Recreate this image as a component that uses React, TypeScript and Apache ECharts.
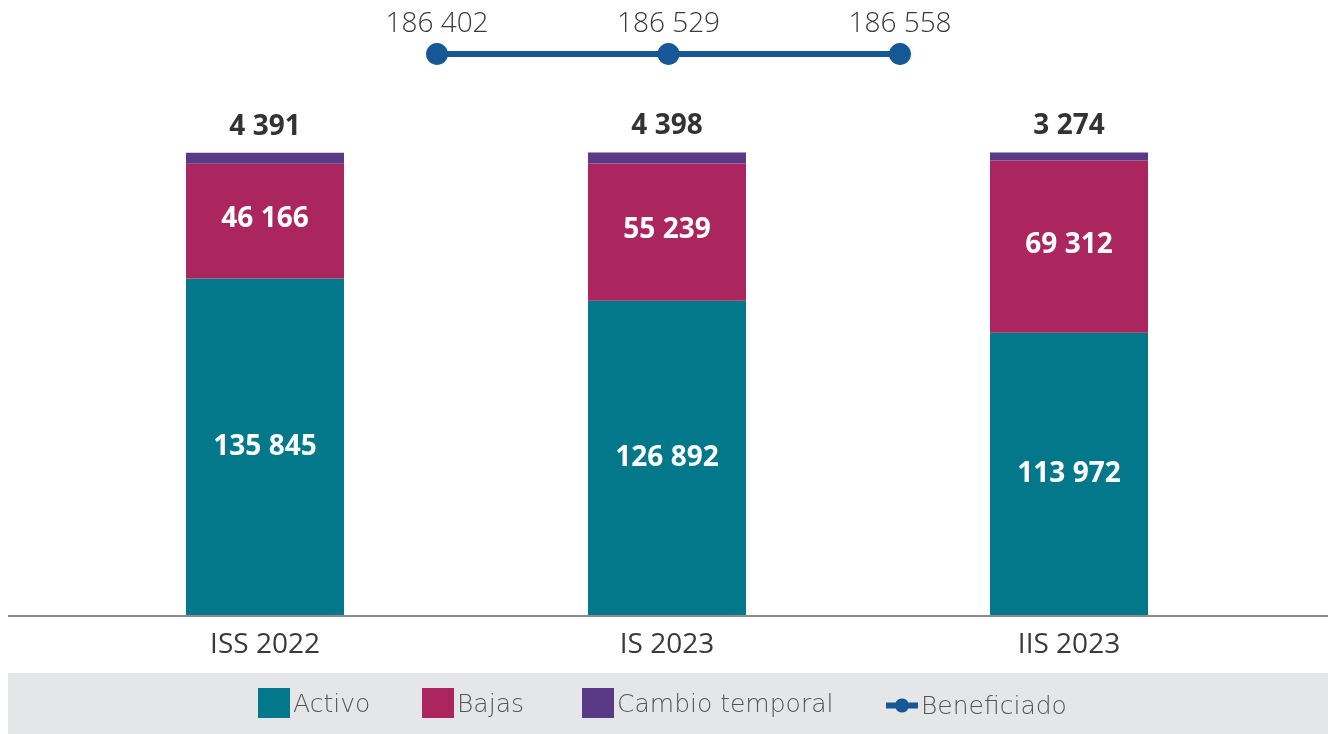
import React, { useEffect, useRef } from "react";
import * as echarts from "echarts";

const categories = ["ISS 2022", "IS 2023", "IIS 2023"];
const activo = [135845, 126892, 113972];
const bajas = [46166, 55239, 69312];
const cambioTemporal = [4391, 4398, 3274];
const beneficiado = [186402, 186529, 186558];

const FONT = "'Open Sans', 'Noto Sans', sans-serif";
const fmt = (v: number) => String(v).replace(/\B(?=(\d{3})+(?!\d))/g, " ");
const LINE_ICON =
  "path://M0,4H9.68A7,7,0,0,1,22.32,4H32V10H22.32A7,7,0,0,1,9.68,10H0Z";

export default function App() {
  const ref = useRef<HTMLDivElement>(null);
  useEffect(() => {
    if (!ref.current) return;
    const chart = echarts.init(ref.current, null, { renderer: "svg" });
    const legendText = { fontSize: 25, color: "#555", fontFamily: "'DejaVu Sans', sans-serif", fontWeight: 200 as any, padding: [0, 0, 0, -2] };
    const legendBase = {
      top: 688,
      padding: 0,
      itemWidth: 32,
      itemHeight: 30,
      itemGap: 5,
      icon: "rect",
      textStyle: legendText,
      selectedMode: false as const,
    };
    chart.setOption({
      animation: false,
      textStyle: { fontFamily: FONT },
      graphic: [
        { type: "rect", shape: { x: 8, y: 673, width: 1320, height: 61 }, style: { fill: "#e5e6e8" }, z: -10 },
        { type: "line", shape: { x1: 8, y1: 616, x2: 1328, y2: 616 }, style: { stroke: "#8c8c8c", lineWidth: 2 }, z: 10 },
      ],
      legend: [
        { ...legendBase, left: 258, data: ["Activo"] },
        { ...legendBase, left: 422, data: ["Bajas"] },
        { ...legendBase, left: 582, data: ["Cambio temporal"] },
        {
          ...legendBase,
          left: 886,
          top: 693,
          itemHeight: 14,
          data: [{ name: "Beneficiado", icon: LINE_ICON }],
        },
      ],
      grid: [
        { left: 64, right: 58, top: 119, bottom: 734 - 616 },
        { left: 437, right: 428, top: 54, height: 10 },
      ],
      xAxis: [
        {
          type: "category",
          gridIndex: 0,
          data: categories,
          axisLine: { show: false },
          axisTick: { show: false },
          axisLabel: { fontSize: 28, color: "#3a3a3a", margin: 12, fontFamily: FONT },
        },
        {
          type: "category",
          gridIndex: 1,
          data: categories,
          boundaryGap: false,
          show: false,
        },
      ],
      yAxis: [
        { type: "value", gridIndex: 0, min: 0, max: 200000, show: false, splitLine: { show: false } },
        { type: "value", gridIndex: 1, min: 0, max: 186558, show: false, splitLine: { show: false } },
      ],
      series: [
        {
          name: "Activo",
          type: "bar",
          stack: "total",
          barWidth: 158,
          data: activo,
          itemStyle: { color: "#04788b" },
          label: { show: true, position: "inside", offset: [0, -3], color: "#fff", fontSize: 28, fontWeight: "bold", formatter: (p: any) => fmt(p.value) },
        },
        {
          name: "Bajas",
          type: "bar",
          stack: "total",
          data: bajas,
          itemStyle: { color: "#ab265e" },
          label: { show: true, position: "inside", offset: [0, -5], color: "#fff", fontSize: 28, fontWeight: "bold", formatter: (p: any) => fmt(p.value) },
        },
        {
          name: "Cambio temporal",
          type: "bar",
          stack: "total",
          data: cambioTemporal,
          itemStyle: { color: "#5a3986" },
          label: { show: true, position: "top", distance: 15, color: "#333", fontSize: 28, fontWeight: "bold", formatter: (p: any) => fmt(p.value) },
        },
        {
          name: "Beneficiado",
          type: "line",
          xAxisIndex: 1,
          yAxisIndex: 1,
          data: beneficiado,
          symbol: "circle",
          symbolSize: 22,
          lineStyle: { color: "#165896", width: 6 },
          itemStyle: { color: "#165896" },
          label: { show: true, position: "top", distance: 8, color: "#3a3a3a", fontSize: 28, fontWeight: 300, formatter: (p: any) => fmt(p.value) },
        },
      ],
    });
    return () => chart.dispose();
  }, []);
  return <div ref={ref} style={{ position: "fixed", left: 0, top: 0, width: 1328, height: 734 }} />;
}
